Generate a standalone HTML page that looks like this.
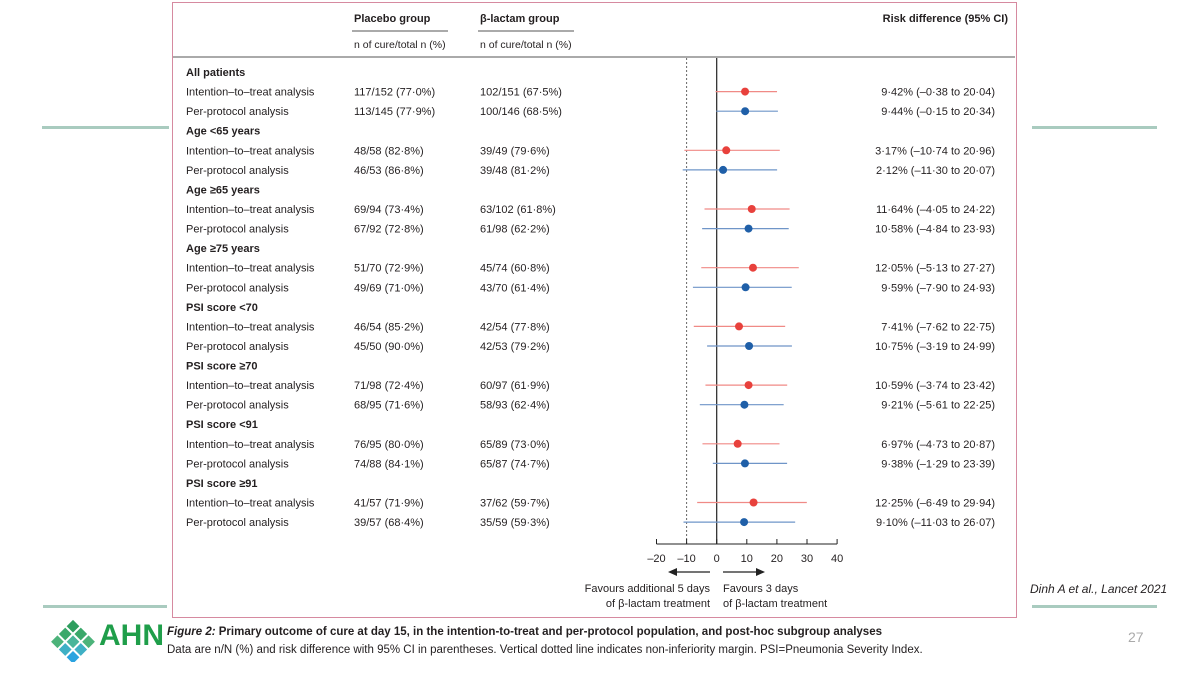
<!DOCTYPE html>
<html><head><meta charset="utf-8">
<style>
body{margin:0;width:1200px;height:675px;background:#fff;position:relative;overflow:hidden;font-family:"Liberation Sans",sans-serif;color:#231f20}
.t{position:absolute;font-size:11px;white-space:nowrap;line-height:1}
.b{font-weight:bold}
</style></head><body>
<div style="position:absolute;left:172px;top:2px;width:843px;height:614px;border:1.5px solid #d68aa0"></div>
<div style="position:absolute;left:42px;top:126px;width:127px;height:3px;background:#a9cbbf"></div>
<div style="position:absolute;left:1032px;top:126px;width:125px;height:3px;background:#a9cbbf"></div>
<div style="position:absolute;left:43px;top:605px;width:124px;height:3px;background:#a9cbbf"></div>
<div style="position:absolute;left:1032px;top:605px;width:125px;height:3px;background:#a9cbbf"></div>
<svg id="plot" width="1200" height="675" style="position:absolute;left:0;top:0"></svg>
<div class="t" style="left:1030px;top:583px;font-size:12px;font-style:italic">Dinh A et al., Lancet 2021</div>
<div class="t" style="left:1128px;top:630px;font-size:14px;color:#aaa">27</div>
<svg width="50" height="45" style="position:absolute;left:48px;top:617px">
<g transform="translate(25,0) rotate(45)">
<rect x="2" y="2" width="9" height="9" fill="#2e9e5e"/><rect x="13" y="2" width="9" height="9" fill="#3aa86a"/><rect x="24" y="2" width="9" height="9" fill="#4cb37a"/>
<rect x="2" y="13" width="9" height="9" fill="#3aa86a"/><rect x="13" y="13" width="9" height="9" fill="#49b59a"/><rect x="24" y="13" width="9" height="9" fill="#3fb0c5"/>
<rect x="2" y="24" width="9" height="9" fill="#4cb37a"/><rect x="13" y="24" width="9" height="9" fill="#3fb0c5"/><rect x="24" y="24" width="9" height="9" fill="#2aa3e0"/></g></svg>
<div class="t b" style="left:99px;top:621px;font-size:30px;color:#1f9e4a">AHN</div>
<div class="t" style="left:167px;top:627px;font-size:11.5px;font-weight:bold"><i>Figure 2:</i> Primary outcome of cure at day 15, in the intention-to-treat and per-protocol population, and post-hoc subgroup analyses</div>
<div class="t" style="left:167px;top:645px;font-size:11.5px">Data are n/N (%) and risk difference with 95% CI in parentheses. Vertical dotted line indicates non-inferiority margin. PSI=Pneumonia Severity Index.</div>
<script>
const groups=["All patients","Age <65 years","Age \u226565 years","Age \u226575 years","PSI score <70","PSI score \u226570","PSI score <91","PSI score \u226591"];
const placebo=[["117/152 (77\u00b70%)","113/145 (77\u00b79%)"],["48/58 (82\u00b78%)","46/53 (86\u00b78%)"],["69/94 (73\u00b74%)","67/92 (72\u00b78%)"],["51/70 (72\u00b79%)","49/69 (71\u00b70%)"],["46/54 (85\u00b72%)","45/50 (90\u00b70%)"],["71/98 (72\u00b74%)","68/95 (71\u00b76%)"],["76/95 (80\u00b70%)","74/88 (84\u00b71%)"],["41/57 (71\u00b79%)","39/57 (68\u00b74%)"]];
const blactam=[["102/151 (67\u00b75%)","100/146 (68\u00b75%)"],["39/49 (79\u00b76%)","39/48 (81\u00b72%)"],["63/102 (61\u00b78%)","61/98 (62\u00b72%)"],["45/74 (60\u00b78%)","43/70 (61\u00b74%)"],["42/54 (77\u00b78%)","42/53 (79\u00b72%)"],["60/97 (61\u00b79%)","58/93 (62\u00b74%)"],["65/89 (73\u00b70%)","65/87 (74\u00b77%)"],["37/62 (59\u00b77%)","35/59 (59\u00b73%)"]];
const est=[[9.42,9.44],[3.17,2.12],[11.64,10.58],[12.05,9.59],[7.41,10.75],[10.59,9.21],[6.97,9.38],[12.25,9.10]];
const lo=[[-0.38,-0.15],[-10.74,-11.30],[-4.05,-4.84],[-5.13,-7.90],[-7.62,-3.19],[-3.74,-5.61],[-4.73,-1.29],[-6.49,-11.03]];
const hi=[[20.04,20.34],[20.96,20.07],[24.22,23.93],[27.27,24.93],[22.75,24.99],[23.42,22.25],[20.87,23.39],[29.94,26.07]];
const ticks=[-20,-10,0,10,20,30,40];
const rowLabels=["Intention\u2013to\u2013treat analysis","Per-protocol analysis"];
const svg=document.getElementById('plot');const NS="http://www.w3.org/2000/svg";
const X=v=>716.7+v*3.01;
const Y=(g,r)=>72+g*58.7+(r+1)*19.6;
function el(tag,a,txt){const e=document.createElementNS(NS,tag);for(const k in a)e.setAttribute(k,a[k]);if(txt!==undefined)e.textContent=txt;svg.appendChild(e);return e;}
function tx(x,y,s,o={}){return el('text',Object.assign({x:x,y:y,'font-size':11,fill:'#231f20','font-family':'Liberation Sans, sans-serif'},o),s);}
const fmt=v=>(v<0?'\u2013':'')+Math.abs(v).toFixed(2).replace('.','\u00b7');
let e;
e=tx(354,22,"Placebo group",{'font-weight':'bold'});
e=tx(480,22,"\u03b2-lactam group",{'font-weight':'bold'});
e=tx(1008,22,"Risk difference (95% CI)",{'font-weight':'bold','text-anchor':'end'});
el('line',{x1:352,x2:448,y1:31,y2:31,stroke:'#555','stroke-width':1});
el('line',{x1:478,x2:574,y1:31,y2:31,stroke:'#555','stroke-width':1});
e=tx(354,48,"n of cure/total n (%)",{'font-size':10.5});
e=tx(480,48,"n of cure/total n (%)",{'font-size':10.5});
el('line',{x1:173,x2:1015,y1:57,y2:57,stroke:'#555','stroke-width':1});
e=el('line',{x1:X(-10),x2:X(-10),y1:58,y2:544,stroke:'#666','stroke-width':1,'stroke-dasharray':'2,2'});
e=el('line',{x1:X(0),x2:X(0),y1:58,y2:544,stroke:'#222','stroke-width':1.2});
e=el('line',{x1:X(ticks[0]),x2:X(ticks[ticks.length-1]),y1:544,y2:544,stroke:'#222','stroke-width':1});
ticks.forEach(t=>{el('line',{x1:X(t),x2:X(t),y1:544,y2:539,stroke:'#222'});
 e=tx(X(t),562,fmt(t).replace('\u00b700',''),{'text-anchor':'middle'});});
el('line',{x1:710,x2:674,y1:572,y2:572,stroke:'#222','stroke-width':1.2});el('polygon',{points:'668,572 677,568 677,576',fill:'#222'});
el('line',{x1:723,x2:759,y1:572,y2:572,stroke:'#222','stroke-width':1.2});el('polygon',{points:'765,572 756,568 756,576',fill:'#222'});
e=tx(710,592,"Favours additional 5 days",{'text-anchor':'end'});
tx(710,607,"of \u03b2-lactam treatment",{'text-anchor':'end'});
e=tx(723,592,"Favours 3 days");
tx(723,607,"of \u03b2-lactam treatment");
const cols=[['#e8413c','#f08a86'],['#1f5fa8','#6f95c8']];
groups.forEach((g,i)=>{
 const gy=72+i*58.7+4;
 e=tx(186,gy,g,{'font-weight':'bold'});
 for(let r=0;r<2;r++){const y=Y(i,r);
  e=tx(186,y+4,rowLabels[r]);
  e=tx(354,y+4,placebo[i][r]);
  e=tx(480,y+4,blactam[i][r]);
  e=tx(995,y+4,fmt(est[i][r])+"% ("+fmt(lo[i][r])+" to "+fmt(hi[i][r])+")",{'text-anchor':'end'});
  e=el('line',{x1:X(lo[i][r]),x2:X(hi[i][r]),y1:y,y2:y,stroke:cols[r][1],'stroke-width':1.2});
  e=el('circle',{cx:X(est[i][r]),cy:y,r:4,fill:cols[r][0]});
 }});
</script>
</body></html>
